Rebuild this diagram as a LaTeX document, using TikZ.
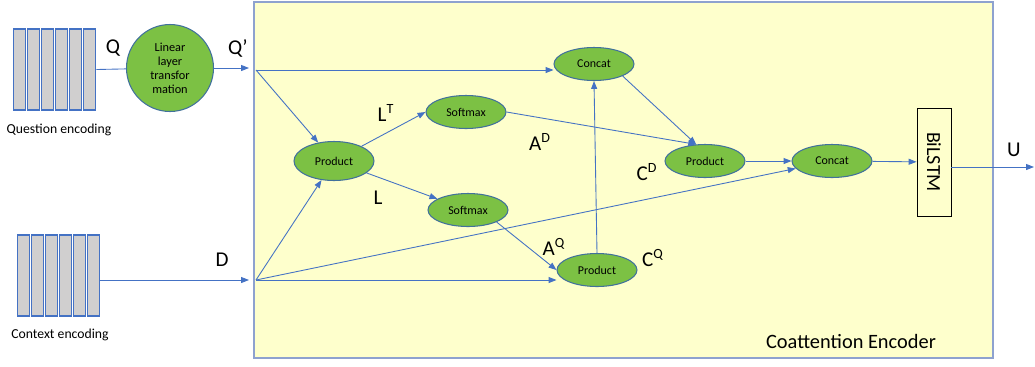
\documentclass[tikz,border=0pt]{standalone}
\usepackage{fontspec}
\setmainfont{Carlito}
\usetikzlibrary{shapes.geometric,arrows.meta}
\definecolor{flowblue}{HTML}{4472C4}
\definecolor{opgreen}{HTML}{7CC144}
\definecolor{opedge}{HTML}{41719C}
\definecolor{encyellow}{HTML}{FEFFCC}
\definecolor{encedge}{HTML}{8EA2CF}
\definecolor{bargray}{HTML}{D0CFCF}
\begin{document}
\begin{tikzpicture}[x=0.02cm, y=-0.02cm,
		flow/.style={flowblue, line width=0.5pt, -{Triangle[length=4.5pt,width=3.4pt]}},
		plain/.style={flowblue, line width=0.5pt},
		bar/.style={draw=flowblue, fill=bargray, line width=0.6pt, minimum width=0.25cm, minimum height=1.62cm, inner sep=0},
		op/.style={ellipse, draw=opedge, fill=opgreen, line width=0.6pt, minimum width=1.6cm, minimum height=0.66cm, inner sep=0, font=\fontsize{6.8}{8}\selectfont},
		lbl/.style={font=\fontsize{12}{14}\selectfont, inner sep=0},
		enccap/.style={font=\fontsize{7.8}{9}\selectfont, inner sep=0}]
		\useasboundingbox (0,0) rectangle (1035,366);

		\draw[draw=encedge, fill=encyellow, line width=0.9pt] (254,2) rectangle (993,358);
		\node[font=\fontsize{11.6}{14}\selectfont] (enc) at (851,341) {Coattention Encoder};

		\foreach \i in {0,...,5} {
			\node[bar] (qbar\i) at ({19.5+\i*14}, 69.5) {};
			\node[bar] (cbar\i) at ({23.5+\i*14}, 275.5) {};
		}
		\node[enccap] (qcap) at (59,130) {Question encoding};
		\node[enccap] (ccap) at (60,335) {Context encoding};

		\node[circle, draw=opedge, fill=opgreen, line width=0.6pt, minimum size=1.74cm, inner sep=0, align=center, font=\fontsize{7}{8}\selectfont] (lin) at (170,68) {Linear\\layer\\transfor\\mation};

		\coordinate (qout) at (249,68);
		\coordinate (qsrc) at (256,70);
		\coordinate (din) at (249,280);
		\coordinate (dsrc) at (256,280);
		\coordinate (uout) at (1034,167);

		\node[op, minimum height=0.78cm] (p1) at (334,161) {Product};
		\node[op] (s1) at (466,112) {Softmax};
		\node[op] (s2) at (468,210) {Softmax};
		\node[op] (c1) at (594,64) {Concat};
		\node[op] (p2) at (597,270) {Product};
		\node[op] (p3) at (705,161) {Product};
		\node[op] (c2) at (832,161) {Concat};
		\node[draw, fill=encyellow, line width=0.5pt, minimum width=0.68cm, minimum height=2.16cm, inner sep=0] (lstm) at (934,162) {};
		\node[rotate=-90, font=\fontsize{11.4}{14}\selectfont] (lstmtxt) at (lstm) {BiLSTM};

		\node[lbl] (q) at (113,48) {Q};
		\node[lbl] (qp) at (238,48) {Q’};
		\node[lbl] (d) at (222,260) {D};
		\node[lbl] (u) at (1014,150) {U};
		\node[lbl] (lt) at (386,113) {L\textsuperscript{T}};
		\node[lbl] (l) at (378,198) {L};
		\node[lbl] (ad) at (540,142) {A\textsuperscript{D}};
		\node[lbl] (aq) at (554,247) {A\textsuperscript{Q}};
		\node[lbl] (cd) at (647,172) {C\textsuperscript{D}};
		\node[lbl] (cq) at (653,258) {C\textsuperscript{Q}};

		\draw[plain] (qbar5.east) -- (lin);
		\draw[flow] (lin) -- (qout);
		\draw[flow] (cbar5.east |- din) -- (din);

		\draw[flow] (qsrc) -- (qsrc -| c1.west);
		\draw[flow] (qsrc) -- (p1);
		\draw[flow] (dsrc) -- (p1);
		\draw[flow] (dsrc) -- (c2);
		\draw[flow] (dsrc) -- (dsrc -| p2.west);

		\draw[flow] (p1) -- (s1.west);
		\draw[flow] (p1) -- (s2.160);
		\draw[flow] (s1.east) -- (p3.118);
		\draw[flow] (s2.south east) -- (p2.west);
		\draw[flow] (p2.north) -- (c1.south);
		\draw[flow] (c1.south east) -- (p3.118);
		\draw[flow] (p3) -- (c2);
		\draw[flow] (c2) -- (lstm);
		\draw[flow] (lstm.east |- uout) -- (uout);
	\end{tikzpicture}
\end{document}
